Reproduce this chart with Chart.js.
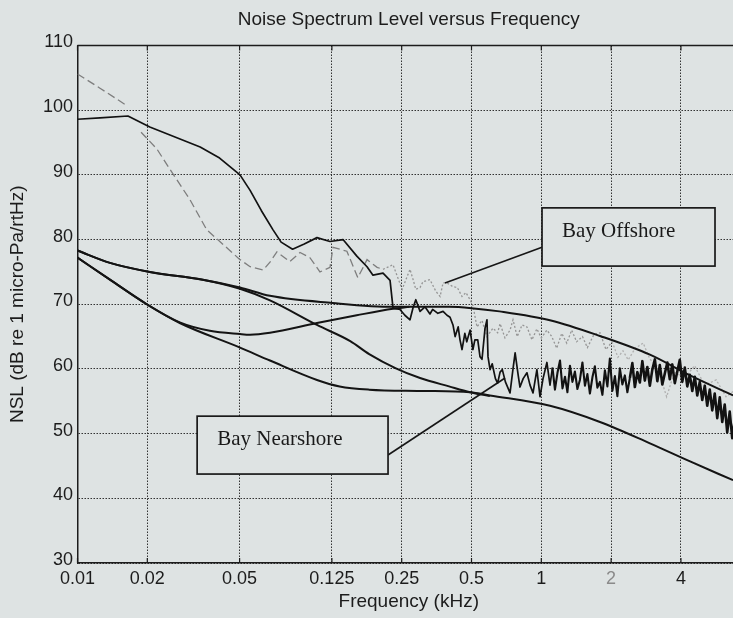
<!DOCTYPE html>
<html>
<head>
<meta charset="utf-8">
<title>Noise Spectrum Level versus Frequency</title>
<script src="https://cdn.jsdelivr.net/npm/chart.js@4"></script>
<style>
  html, body { margin: 0; padding: 0; background: #dee3e3; overflow: hidden; }
  /* plot runs a little past the right edge of the window, like the scan */
  #wrap { width: 740px; height: 618px; }
</style>
</head>
<body>
<div id="wrap"><canvas id="nslChart"></canvas></div>
<script>
// axis ticks
const freqTicks  = [0.01, 0.02, 0.05, 0.125, 0.25, 0.5, 1, 2, 4];
const levelTicks = [30, 40, 50, 60, 70, 80, 90, 100, 110];

// measured spectrum, Bay Nearshore (black) - low / mid band
const nearLowFreq = [
  0.01, 0.0125, 0.0165, 0.0205, 0.0338, 0.041, 0.0502, 0.0555, 0.062, 0.0697,
  0.0755, 0.0846, 0.095, 0.1078, 0.1227, 0.1396, 0.1605, 0.1772, 0.188, 0.2077,
  0.2227, 0.2294, 0.2458, 0.258, 0.2715, 0.28, 0.2876, 0.30, 0.315, 0.331,
  0.34, 0.358, 0.377, 0.392, 0.404, 0.416, 0.425, 0.438, 0.446, 0.455,
  0.468, 0.477, 0.493, 0.507, 0.517, 0.532, 0.544, 0.555, 0.572, 0.583,
  0.589, 0.601, 0.614, 0.634, 0.648, 0.664, 0.679, 0.70, 0.733, 0.755,
  0.771, 0.795, 0.809, 0.835, 0.867, 0.894, 0.921, 0.957, 0.987, 1.017,
  1.057
];
const nearLowLevel = [
  98.6, 98.8, 99.1, 97.4, 94.3, 92.6, 90.0, 87.6, 84.5, 81.5,
  79.6, 78.5, 79.3, 80.3, 79.7, 80.0, 77.4, 75.8, 74.5, 74.8,
  73.7, 69.4, 69.2, 68.3, 67.6, 69.5, 70.7, 68.9, 69.6, 68.5,
  69.2, 68.6, 68.9, 68.3, 68.0, 66.8, 65.0, 66.5, 64.5, 63.0,
  65.5, 64.2, 66.0, 63.0, 64.5, 64.5, 61.9, 61.5, 66.3, 67.6,
  61.9, 59.9, 60.8, 58.5, 57.8, 59.5, 59.9, 58.0, 56.3, 60.0,
  62.5, 59.0, 57.2, 58.5, 59.4, 57.5, 56.3, 59.9, 55.7, 58.5,
  61.0
];

// measured spectrum, Bay Nearshore (black) - high band, 1 to 7 kHz
const nearHighFreq = [
  1.09, 1.117, 1.145, 1.174, 1.204, 1.234, 1.265, 1.296, 1.329, 1.362,
  1.396, 1.431, 1.467, 1.504, 1.542, 1.580, 1.620, 1.661, 1.702, 1.745,
  1.789, 1.834, 1.880, 1.927, 1.975, 2.025, 2.076, 2.128, 2.181, 2.236,
  2.292, 2.350, 2.409, 2.469, 2.531, 2.595, 2.660, 2.727, 2.795, 2.865,
  2.937, 3.011, 3.087, 3.164, 3.243, 3.325, 3.408, 3.494, 3.581, 3.671,
  3.763, 3.858, 3.955, 4.054, 4.156, 4.260, 4.367, 4.477, 4.589, 4.704,
  4.822, 4.943, 5.067, 5.194, 5.325, 5.458, 5.595, 5.736, 5.880, 6.027,
  6.178, 6.333, 6.492, 6.655, 6.822
];
const nearHighLevel = [
  57.5, 60.2, 56.8, 59.4, 61.3, 57.0, 58.8, 56.4, 60.5, 58.0,
  59.6, 56.9, 58.3, 61.0, 57.4, 59.2, 56.2, 58.7, 60.4, 57.1,
  58.0, 56.0, 59.8, 57.3, 61.6, 56.6, 58.9, 55.8, 60.1, 57.6,
  59.0, 56.4, 58.6, 60.9, 57.2, 59.5, 57.9, 61.2, 58.2, 60.3,
  57.4, 59.9, 61.5, 58.1, 60.6, 57.6, 59.3, 61.0, 58.4, 60.7,
  57.8, 59.6, 61.4, 58.0, 60.2, 57.3, 59.1, 56.6, 58.8, 55.9,
  58.0, 55.2, 57.4, 54.3, 56.8, 53.6, 56.2, 52.4, 55.6, 51.8,
  54.5, 50.2, 53.4, 49.3, 52.1
];

// measured spectrum, Bay Offshore (grey, dashed then dotted)
const offFreq = [
  0.01, 0.0125, 0.0165, 0.0175, 0.0188, 0.022, 0.0251, 0.0305, 0.0361, 0.0502,
  0.0555, 0.0632, 0.0676, 0.0724, 0.0823, 0.0911, 0.1005, 0.111, 0.1227, 0.1264,
  0.1451, 0.1617, 0.1772, 0.1958, 0.2077, 0.2294, 0.251, 0.2715, 0.28, 0.2876,
  0.30, 0.309, 0.331, 0.351, 0.366, 0.377, 0.392, 0.416, 0.434, 0.455,
  0.473, 0.493, 0.507, 0.528, 0.555, 0.583, 0.619, 0.648, 0.664, 0.697,
  0.733, 0.755, 0.787, 0.826, 0.867, 0.911, 0.957, 1.0, 1.057, 1.11,
  1.165, 1.225, 1.287, 1.352, 1.42, 1.505, 1.58, 1.685, 1.791, 1.90,
  2.02, 2.14, 2.25, 2.37, 2.54, 2.75, 2.94, 3.15, 3.47, 3.75,
  4.15, 4.58, 5.06, 5.68, 6.26, 6.71
];
const offLevel = [
  105.6, 103.4, 100.6, null, 96.6, 94.0, 90.8, 86.2, 81.5, 76.9,
  75.8, 75.3, 76.5, 78.1, 76.6, 78.0, 77.2, 75.0, 75.7, 78.8,
  78.2, 74.1, 76.9, 75.7, 75.4, 76.1, 72.3, 75.4, 73.8, 72.3,
  72.6, 73.5, 73.8, 72.0, 71.2, 73.3, 73.3, 72.7, 72.6, 71.2,
  71.8, 70.7, 69.8, 66.5, 67.5, 65.0, 66.3, 65.6, 67.0, 64.8,
  66.0, 67.6, 65.0, 66.8, 66.5, 64.5, 66.2, 64.8, 66.0, 65.0,
  63.2, 65.5, 64.0, 66.0, 64.2, 65.0, 63.3, 65.3, 65.6, 63.0,
  64.2, 61.8, 62.8, 61.4, 63.2, 64.0, 61.5, 60.5, 55.7, 59.5,
  58.6, 60.5, 57.5, 58.3, 55.7, 56.5
];

// smooth model curves (solid black)
const modelAFreq  = [0.01, 0.0138, 0.0205, 0.0347, 0.0502, 0.0676, 0.126, 0.23, 0.4, 0.5, 0.66, 1.1, 1.79, 2.94, 4.38, 6.71];
const modelALevel = [78.3, 76.4, 75.0, 73.8, 72.6, 71.3, 70.2, 69.6, 69.6, 69.4, 68.9, 67.5, 65.1, 62.2, 59.0, 55.9];

const modelBFreq  = [0.01, 0.0138, 0.0205, 0.0347, 0.0502, 0.0676, 0.1078, 0.15, 0.181, 0.236, 0.30, 0.40, 0.493, 0.6];
const modelBLevel = [78.3, 76.4, 75.0, 73.8, 72.4, 70.6, 66.8, 64.3, 62.3, 60.1, 58.6, 57.3, 56.4, 55.8];

const modelCFreq  = [0.01, 0.0138, 0.0199, 0.0276, 0.0372, 0.0502, 0.0555, 0.0676, 0.1078, 0.16, 0.2294, 0.27];
const modelCLevel = [77.2, 73.8, 70.0, 67.2, 65.9, 65.4, 65.3, 65.6, 67.1, 68.3, 69.3, 69.6];

const modelDFreq  = [0.01, 0.0138, 0.0199, 0.0276, 0.0502, 0.0676, 0.1078, 0.135, 0.181, 0.30, 0.493, 0.6, 1.09, 1.79, 2.94, 4.38, 6.71];
const modelDLevel = [77.2, 73.8, 70.0, 67.1, 63.3, 61.3, 58.3, 57.3, 56.8, 56.6, 56.4, 55.9, 54.3, 51.8, 48.5, 45.7, 42.8];

// callouts: text, box corners and pointer ends (in kHz / dB)
const calloutText     = ["Bay Offshore", "Bay Nearshore"];
const calloutBoxFreq  = [[1.007, 5.61], [0.0328, 0.2183]];
const calloutBoxLevel = [[75.9, 84.9], [43.75, 52.7]];
const pointerFreq     = [[0.3843, 1.007], [0.6975, 0.2183]];
const pointerLevel    = [[73.3, 78.8], [58.6, 46.7]];

const BG   = "#dee3e3";
const INK  = "#1c1c1c";
const SANS = "'Liberation Sans', Arial, Helvetica, sans-serif";
const SERIF = "'Liberation Serif', 'Times New Roman', serif";

const toPoints = (fs, ls) => fs.map((f, i) => ({ x: f, y: ls[i] }));

function modelLine(fs, ls) {
  return {
    data: toPoints(fs, ls),
    borderColor: "#141414",
    borderWidth: 2,
    cubicInterpolationMode: "monotone",
    pointRadius: 0
  };
}

// box frame, top edge, inner ticks and the two callouts
const framePlugin = {
  id: "framePlugin",
  beforeDraw(chart) {
    const c = chart.ctx;
    c.save();
    c.fillStyle = BG;
    c.fillRect(0, 0, chart.width, chart.height);
    c.restore();
  },
  afterDatasetsDraw(chart) {
    const { ctx, chartArea: a, scales: { x, y } } = chart;
    ctx.save();
    ctx.strokeStyle = INK;
    ctx.lineWidth = 1.5;
    ctx.beginPath();
    ctx.moveTo(a.left, a.top);
    ctx.lineTo(a.right, a.top);
    ctx.stroke();

    ctx.lineWidth = 1.2;
    freqTicks.forEach(f => {
      const px = x.getPixelForValue(f);
      ctx.beginPath();
      ctx.moveTo(px, a.top);    ctx.lineTo(px, a.top + 5);
      ctx.moveTo(px, a.bottom); ctx.lineTo(px, a.bottom - 5);
      ctx.stroke();
    });

    calloutText.forEach((txt, i) => {
      const x0 = x.getPixelForValue(calloutBoxFreq[i][0]);
      const x1 = x.getPixelForValue(calloutBoxFreq[i][1]);
      const y0 = y.getPixelForValue(calloutBoxLevel[i][1]);
      const y1 = y.getPixelForValue(calloutBoxLevel[i][0]);
      ctx.fillStyle = BG;
      ctx.fillRect(x0, y0, x1 - x0, y1 - y0);
      ctx.lineWidth = 1.7;
      ctx.strokeStyle = "#1a1a1a";
      ctx.strokeRect(x0, y0, x1 - x0, y1 - y0);
      ctx.fillStyle = "#1a1a1a";
      ctx.font = "21px " + SERIF;
      ctx.textBaseline = "alphabetic";
      ctx.textAlign = "left";
      ctx.fillText(txt, x0 + 20, (y0 + y1) / 2);
    });
    ctx.restore();
  }
};

const datasets = [
  {
    data: toPoints(nearLowFreq.concat(nearHighFreq), nearLowLevel.concat(nearHighLevel)),
    borderColor: "#121212",
    borderWidth: 1.7,
    borderJoinStyle: "round",
    pointRadius: 0,
    segment: {
      // the dense part of the spectrum reads as a thick band in the scan
      borderWidth: c => c.p0.parsed.x > 2.4 ? 2.6 : (c.p0.parsed.x > 1.1 ? 2.1 : 1.7)
    }
  },
  ...pointerFreq.map((fs, i) => ({
    data: toPoints(fs, pointerLevel[i]),
    borderColor: "#161616",
    borderWidth: 1.6,
    pointRadius: 0
  })),
  modelLine(modelAFreq, modelALevel),
  modelLine(modelBFreq, modelBLevel),
  modelLine(modelCFreq, modelCLevel),
  modelLine(modelDFreq, modelDLevel),
  {
    data: toPoints(offFreq, offLevel),
    borderWidth: 1.3,
    pointRadius: 0,
    segment: {
      borderDash: c => c.p0.parsed.x < 0.2 ? [8, 4] : [2, 2],
      borderColor: c => c.p0.parsed.x < 0.2 ? "#7e7e7e" : (c.p0.parsed.x < 2 ? "#959595" : "#b0b0b0")
    }
  }
];

new Chart(document.getElementById("nslChart"), {
  type: "line",
  data: { datasets },
  options: {
    responsive: true,
    maintainAspectRatio: false,
    animation: false,
    layout: { padding: 0 },
    plugins: {
      legend: { display: false },
      tooltip: { enabled: false },
      title: {
        display: true,
        fullSize: false,
        text: "Noise Spectrum Level versus Frequency",
        color: INK,
        font: { family: SANS, size: 19, weight: "normal" },
        padding: { top: 8, bottom: 14.7 }
      }
    },
    scales: {
      x: {
        type: "logarithmic",
        min: 0.01,
        max: 7.19,
        afterBuildTicks: s => { s.ticks = freqTicks.map(v => ({ value: v })); },
        afterFit: s => { s.height = 55; },
        ticks: {
          callback: v => String(v),
          autoSkip: false,
          maxRotation: 0,
          padding: 5,
          color: c => (c.tick && c.tick.value === 2) ? "#8a8a8a" : INK,
          font: { family: SANS, size: 18 }
        },
        grid: { color: "#333", lineWidth: 1, drawTicks: false },
        border: { color: INK, width: 1.5, dash: [1.5, 1.5] },
        title: {
          display: true,
          text: "Frequency (kHz)",
          color: INK,
          font: { family: SANS, size: 19 },
          padding: { top: 0, bottom: 4.6 }
        }
      },
      y: {
        min: 30,
        max: 110,
        afterBuildTicks: s => { s.ticks = levelTicks.map(v => ({ value: v })); },
        afterFit: s => { s.width = 77.5; },
        ticks: {
          padding: 4.5,
          labelOffset: -3,
          color: INK,
          font: { family: SANS, size: 18 }
        },
        grid: { color: "#333", lineWidth: 1, drawTicks: false },
        border: { color: INK, width: 1.5, dash: [1.5, 1.5] },
        title: {
          display: true,
          text: "NSL (dB re 1 micro-Pa/rtHz)",
          color: INK,
          font: { family: SANS, size: 19 },
          padding: { top: 6.6 }
        }
      }
    }
  },
  plugins: [framePlugin]
});
</script>
</body>
</html>
